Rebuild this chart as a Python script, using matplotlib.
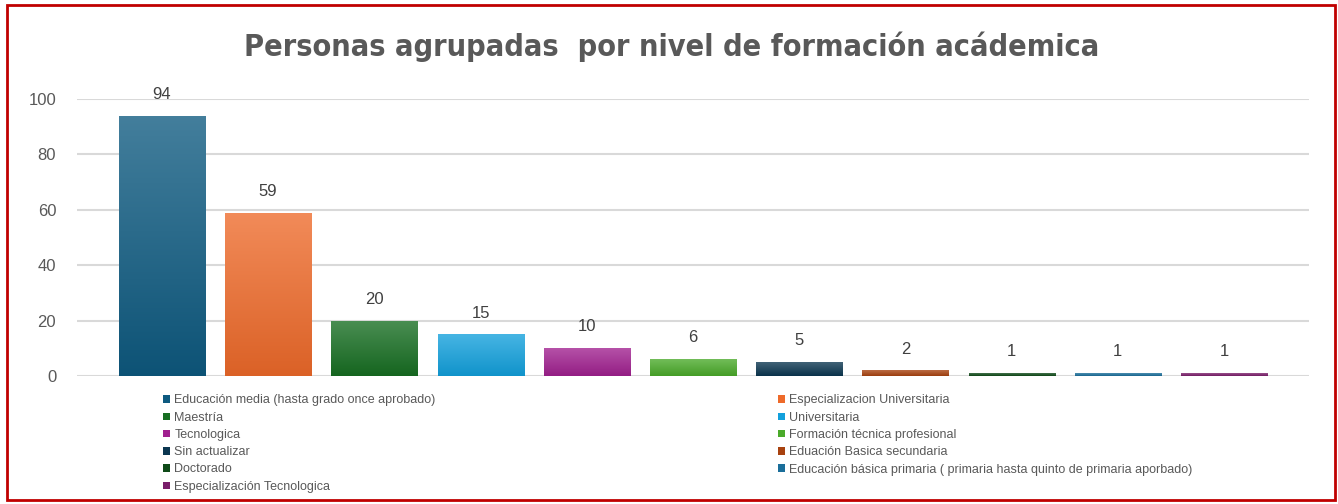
import matplotlib
matplotlib.use("Agg")
import matplotlib.pyplot as plt
import numpy as np
from matplotlib.colors import to_rgb
from matplotlib.patches import Rectangle

# datos
categorias = [
    "Educación media (hasta grado once aprobado)",
    "Especializacion Universitaria",
    "Maestría",
    "Universitaria",
    "Tecnologica",
    "Formación técnica profesional",
    "Sin actualizar",
    "Eduación Basica secundaria",
    "Doctorado",
    "Educación básica primaria ( primaria hasta quinto de primaria aporbado)",
    "Especialización Tecnologica",
]
valores = [94, 59, 20, 15, 10, 6, 5, 2, 1, 1, 1]
colores = ["#0E5A80", "#EE6A2A", "#176E22", "#12A0DC", "#A0208F", "#4AAA2A",
           "#0B3650", "#A8420F", "#0E4A18", "#1A6E9A", "#7A1E6A"]
yticks = [0, 20, 40, 60, 80, 100]

gris = "#595959"
fig = plt.figure(figsize=(13.38, 5.04), dpi=100)
ax = fig.add_axes([77/1338, 1 - 376/504, (1309-77)/1338, (376-99)/504])

x = np.arange(len(valores))
ancho = 0.81
barras = []
for i in range(len(valores)):
    b = ax.bar(x[i], valores[i], ancho, color=colores[i], label=categorias[i], zorder=3)
    barras.append(b)

# degradado en cada barra
for b, c in zip(barras, colores):
    p = b.patches[0]
    base = np.array(to_rgb(c))
    t = np.linspace(0, 1, 100)[:, None]
    abajo = base * 0.92
    arriba = base * 0.78 + 0.22
    grad = (abajo * (1 - t) + arriba * t)[:, None, :]
    x0, y0 = p.get_x(), p.get_y()
    im = ax.imshow(grad, extent=[x0, x0 + p.get_width(), y0, y0 + p.get_height()],
                   origin="lower", aspect="auto", zorder=4)
    im.set_clip_path(p)
    ax.bar_label(b, padding=10, fontsize=12, color="#404040", family="Liberation Sans",
                 zorder=5)

ax.set_xlim(-0.8, 10.8)
ax.set_ylim(0, 100)
ax.set_yticks(yticks)
ax.set_xticks([])
ax.tick_params(axis="y", length=0, pad=15, labelsize=12, labelcolor=gris)
for lbl in ax.get_yticklabels():
    lbl.set_family("Liberation Sans")
ax.grid(axis="y", color="#D9D9D9", linewidth=1.5, zorder=0)
for s in ax.spines.values():
    s.set_visible(False)

fig.text(0.502, 1 - 47/504, "Personas agrupadas  por nivel de formación acádemica",
         ha="center", va="center", fontsize=22, fontweight="bold", color=gris,
         family="DejaVu Sans", fontstretch="condensed")

h, l = ax.get_legend_handles_labels()
for idx, xpos in [(range(0, 11, 2), 163), (range(1, 11, 2), 778)]:
    leg = fig.legend([h[i] for i in idx], [l[i] for i in idx], loc="upper left",
                     bbox_to_anchor=(xpos/1338, 1 - 394.5/504), frameon=False,
                     prop={"family": "Liberation Sans", "size": 9},
                     handlelength=0.55, handleheight=0.55, handletextpad=0.35,
                     labelspacing=0.42, borderpad=0, borderaxespad=0)
    for t in leg.get_texts():
        t.set_color(gris)

fig.patches.append(Rectangle((7/1338, 4/504), 1328/1338, 495/504, transform=fig.transFigure,
                             fill=False, edgecolor="#C00000", linewidth=2))

fig.savefig("out.png", dpi=100)
